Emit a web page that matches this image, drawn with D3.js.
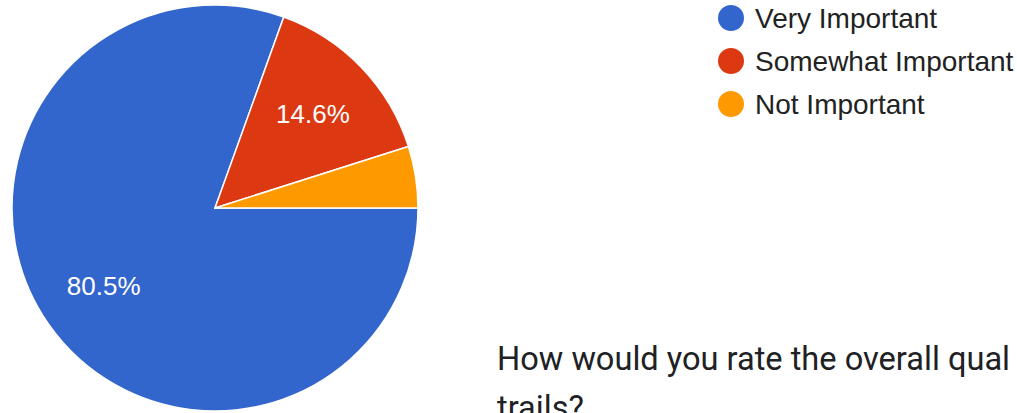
<!DOCTYPE html>
<html>
<head>
<meta charset="utf-8">
<script src="https://cdn.jsdelivr.net/npm/d3@7"></script>
<style>
  html, body { margin: 0; padding: 0; background: #ffffff; overflow: hidden; }
  svg { display: block; }
</style>
</head>
<body>
<svg id="chart" width="1017" height="413"></svg>
<script>
const categories = ["Very Important", "Somewhat Important", "Not Important"];
const values = [80.5, 14.6, 4.9];
const colors = ["#3366cc", "#dc3912", "#ff9900"];
const questionLines = ["How would you rate the overall qual", "trails?"];

const svg = d3.select("#chart");
const cx = 215, cy = 208, R = 203;

const pie = d3.pie().sort(null).value(d => d)
  .startAngle(Math.PI / 2).endAngle(Math.PI / 2 + 2 * Math.PI);
const arcs = pie(values);
const arc = d3.arc().innerRadius(0).outerRadius(R);
const labelArc = d3.arc().innerRadius(R * 0.67).outerRadius(R * 0.67);

const g = svg.append("g").attr("transform", `translate(${cx},${cy})`);
g.selectAll("path").data(arcs).enter().append("path")
  .attr("d", arc)
  .attr("fill", (d, i) => colors[i])
  .attr("stroke", "#ffffff")
  .attr("stroke-width", 1.5);

g.selectAll("text").data(arcs.filter(d => d.value >= 10)).enter().append("text")
  .attr("transform", d => `translate(${labelArc.centroid(d)})`)
  .attr("text-anchor", "middle")
  .attr("dominant-baseline", "central")
  .attr("font-family", "Liberation Sans, Arial, sans-serif")
  .attr("font-size", 26)
  .attr("fill", "#ffffff")
  .text(d => d.value.toFixed(1) + "%");

// legend
const legend = svg.append("g");
const ly = d3.scalePoint().domain(categories).range([18, 104]);
const items = legend.selectAll("g").data(categories).enter().append("g")
  .attr("transform", d => `translate(0,${ly(d)})`);
items.append("circle").attr("cx", 731).attr("cy", 0).attr("r", 13)
  .attr("fill", (d, i) => colors[i]);
items.append("text").attr("x", 755).attr("y", 0)
  .attr("dominant-baseline", "central")
  .attr("font-family", "Liberation Sans, Arial, sans-serif")
  .attr("font-size", 28)
  .attr("fill", "#222222")
  .text(d => d);

// question text
svg.selectAll("text.q").data(questionLines).enter().append("text")
  .attr("class", "q")
  .attr("x", 497)
  .attr("y", (d, i) => 370 + i * 49)
  .attr("font-family", "Roboto, sans-serif")
  .attr("font-size", 32.6)
  .attr("fill", "#202124")
  .text(d => d);
</script>
</body>
</html>
